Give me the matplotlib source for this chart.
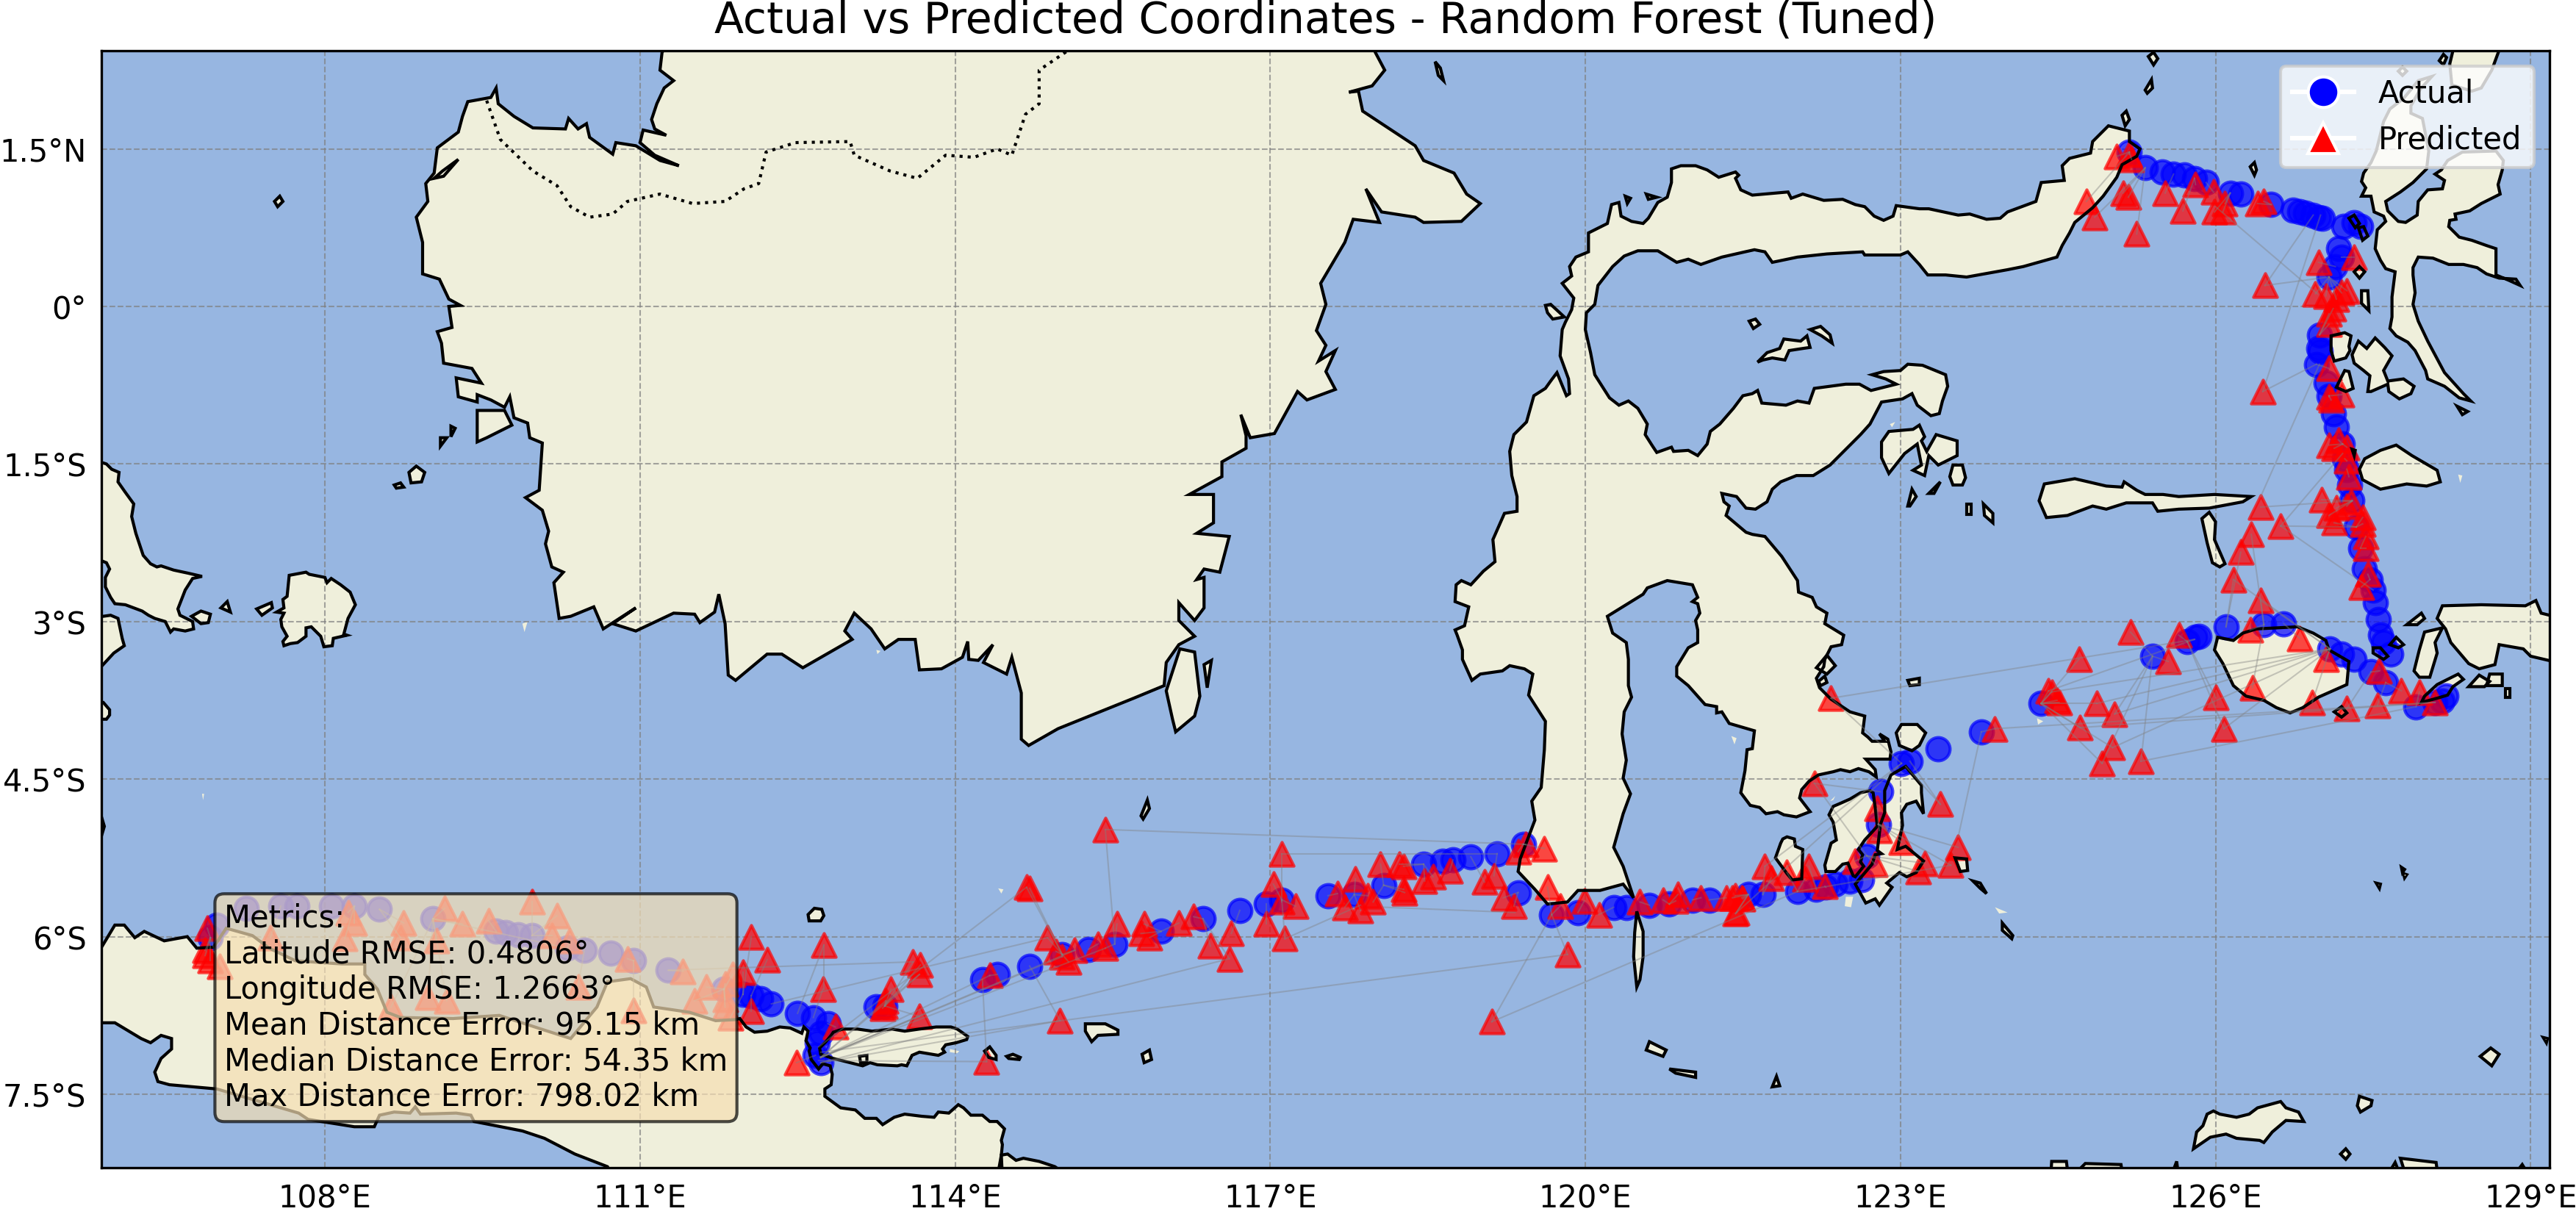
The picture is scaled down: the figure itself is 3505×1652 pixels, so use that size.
import numpy as np
import matplotlib
matplotlib.use("Agg")
import matplotlib.pyplot as plt
from matplotlib.lines import Line2D
from matplotlib.patches import Polygon

# ---------- coastlines, (lon, lat) ----------
borneo = [(111.32,2.57),(111.21,2.42),(111.19,2.25),(111.32,2.15),(111.23,2.08),(111.16,1.93),(111.11,1.78),(111.14,1.69),(111.25,1.63),(111.03,1.68),(111.0,1.56),(111.14,1.44),(111.37,1.34),(111.19,1.39),(110.96,1.53),(110.77,1.56),(110.74,1.45),(110.52,1.61),(110.49,1.74),(110.41,1.69),(110.32,1.79),(110.29,1.69),(109.98,1.70),(109.80,1.81),(109.65,1.93),(109.63,2.08),(109.58,1.99),(109.36,1.95),(109.31,1.81),(109.27,1.66),(109.07,1.51),(109.04,1.27),(108.96,1.17),(108.98,1.0),(108.87,0.85),(108.93,0.61),(108.93,0.31),(109.09,0.26),(109.18,0.07),(109.29,0.01),(109.18,0.0),(109.21,-0.2),(109.07,-0.24),(109.11,-0.35),(109.13,-0.54),(109.40,-0.59),(109.49,-0.73),(109.25,-0.68),(109.27,-0.86),(109.45,-0.91),(109.45,-0.84),(109.58,-0.89),(109.71,-0.96),(109.76,-0.86),(109.80,-1.06),(109.93,-1.11),(109.95,-1.25),(110.07,-1.30),(110.04,-1.75),(109.91,-1.82),(110.07,-1.94),(110.13,-2.14),(110.10,-2.26),(110.16,-2.48),(110.27,-2.53),(110.18,-2.63),(110.23,-2.97),(110.34,-2.95),(110.56,-2.86),(110.65,-3.07),(110.96,-2.87),(110.74,-3.02),(110.96,-3.09),(111.32,-2.92),(111.52,-2.93),(111.57,-3.01),(111.71,-2.91),(111.75,-2.74),(111.81,-3.02),(111.84,-3.51),(111.91,-3.56),(112.21,-3.31),(112.35,-3.31),(112.55,-3.44),(113.02,-3.17),(112.95,-3.09),(113.04,-2.92),(113.2,-3.07),(113.33,-3.26),(113.46,-3.17),(113.62,-3.17),(113.66,-3.46),(113.87,-3.45),(114.07,-3.34),(114.12,-3.19),(114.13,-3.36),(114.22,-3.37),(114.36,-3.22),(114.27,-3.39),(114.49,-3.5),(114.54,-3.34),(114.63,-3.68),(114.63,-4.12),(114.70,-4.18),(114.98,-4.02),(115.70,-3.73),(115.99,-3.61),(116.01,-3.39),(116.13,-3.22),(116.28,-3.14),(116.13,-2.99),(116.13,-2.82),(116.28,-2.99),(116.37,-2.87),(116.37,-2.58),(116.30,-2.60),(116.37,-2.50),(116.52,-2.53),(116.61,-2.19),(116.30,-2.16),(116.46,-2.06),(116.46,-1.79),(116.23,-1.79),(116.54,-1.62),(116.54,-1.48),(116.77,-1.35),(116.77,-1.23),(116.72,-1.03),(116.81,-1.25),(117.04,-1.21),(117.26,-0.81),(117.35,-0.89),(117.62,-0.79),(117.53,-0.62),(117.62,-0.42),(117.46,-0.52),(117.53,-0.37),(117.44,-0.23),(117.53,0.02),(117.48,0.22),(117.71,0.61),(117.79,0.83),(118.04,0.80),(117.91,1.12),(118.06,0.90),(118.38,0.85),(118.46,0.80),(118.82,0.81),(119.0,0.98),(118.87,1.07),(118.75,1.27),(118.46,1.39),(118.38,1.53),(117.88,1.86),(117.84,2.05),(117.75,2.04),(117.97,2.10),(118.09,2.25),(118.0,2.42),(117.97,2.57)]
java = [(105.88,-6.09),(106.0,-5.89),(106.09,-5.89),(106.19,-6.01),(106.28,-5.95),(106.47,-6.04),(106.69,-6.0),(106.78,-6.11),(106.94,-6.1),(107.06,-5.92),(107.31,-5.99),(107.47,-6.11),(107.72,-6.23),(108.16,-6.26),(108.38,-6.26),(108.38,-6.36),(108.5,-6.5),(108.59,-6.72),(108.72,-6.77),(109.22,-6.78),(109.66,-6.75),(110.09,-6.89),(110.34,-6.97),(110.59,-6.67),(110.69,-6.43),(110.91,-6.4),(111.06,-6.48),(111.13,-6.67),(111.47,-6.72),(111.72,-6.8),(111.91,-6.79),(111.95,-6.78),(112.01,-6.86),(112.09,-6.91),(112.21,-6.9),(112.33,-6.86),(112.43,-6.87),(112.54,-6.92),(112.56,-6.86),(112.6,-6.9),(112.58,-6.99),(112.62,-7.06),(112.61,-7.09),(112.63,-7.17),(112.7,-7.26),(112.74,-7.21),(112.81,-7.23),(112.83,-7.31),(112.82,-7.41),(112.76,-7.45),(112.76,-7.52),(112.91,-7.63),(113.05,-7.65),(113.14,-7.73),(113.25,-7.73),(113.31,-7.79),(113.42,-7.72),(113.52,-7.69),(113.68,-7.71),(113.8,-7.72),(113.84,-7.67),(113.94,-7.68),(114.03,-7.6),(114.08,-7.63),(114.15,-7.7),(114.26,-7.7),(114.33,-7.76),(114.4,-7.76),(114.47,-7.83),(114.44,-7.94),(114.45,-7.98),(114.44,-8.08),(114.4,-8.3),(110.75,-8.3),(110.69,-8.19),(110.38,-8.07),(110.09,-7.92),(109.88,-7.85),(109.42,-7.76),(109.39,-7.7),(109.25,-7.68),(108.91,-7.69),(108.86,-7.62),(108.81,-7.68),(108.66,-7.67),(108.52,-7.7),(108.47,-7.81),(108.28,-7.81),(107.84,-7.74),(107.75,-7.68),(106.97,-7.45),(106.52,-7.41),(106.41,-7.38),(106.38,-7.29),(106.44,-7.16),(106.54,-7.07),(106.54,-6.97),(106.44,-6.94),(106.34,-7.01),(106.25,-6.97),(106.0,-6.82),(105.88,-6.82),(105.6,-6.82),(105.6,-6.09)]
bali = [(114.45,-8.3),(114.44,-8.08),(114.5,-8.07),(114.58,-8.13),(114.65,-8.11),(114.8,-8.14),(114.95,-8.19),(115.1,-8.3)]
madura = [(112.84,-6.91),(112.93,-6.88),(113.07,-6.88),(113.21,-6.9),(113.4,-6.88),(113.52,-6.9),(113.66,-6.88),(113.82,-6.86),(113.96,-6.86),(114.02,-6.88),(114.12,-6.95),(114.11,-6.98),(114.01,-7.01),(113.91,-7.03),(113.88,-7.07),(113.9,-7.1),(113.84,-7.13),(113.66,-7.1),(113.59,-7.13),(113.54,-7.23),(113.49,-7.22),(113.45,-7.23),(113.26,-7.22),(113.19,-7.2),(113.12,-7.23),(113.0,-7.2),(112.84,-7.16),(112.72,-7.12),(112.71,-7.06),(112.77,-7.0),(112.82,-6.94)]
bangka = [(105.89,-1.49),(105.92,-1.5),(105.97,-1.55),(106.04,-1.58),(106.03,-1.67),(106.10,-1.77),(106.18,-1.88),(106.16,-2.0),(106.20,-2.16),(106.27,-2.37),(106.34,-2.45),(106.40,-2.48),(106.44,-2.47),(106.56,-2.51),(106.70,-2.54),(106.83,-2.57),(106.74,-2.59),(106.67,-2.70),(106.60,-2.88),(106.62,-2.94),(106.74,-3.0),(106.75,-3.07),(106.67,-3.09),(106.56,-3.07),(106.53,-3.10),(106.48,-3.0),(106.38,-2.97),(106.32,-2.94),(106.26,-2.90),(106.10,-2.84),(106.0,-2.83),(105.96,-2.77),(105.91,-2.67),(105.91,-2.58),(105.95,-2.5),(105.92,-2.44),(105.87,-2.42),(105.6,-2.42),(105.6,-1.49)]
sumatra_a = [(105.6,-2.95),(105.89,-2.95),(105.96,-2.94),(106.03,-2.97),(106.07,-3.16),(106.09,-3.23),(105.99,-3.30),(105.87,-3.43),(105.6,-3.43)]
sumatra_b = [(105.6,-3.77),(105.89,-3.77),(105.95,-3.84),(105.95,-3.89),(105.92,-3.93),(105.6,-3.93)]
belitung = [(107.66,-2.56),(107.82,-2.53),(107.85,-2.55),(108.0,-2.58),(108.02,-2.63),(108.06,-2.59),(108.15,-2.65),(108.24,-2.72),(108.29,-2.84),(108.22,-2.97),(108.18,-3.12),(108.21,-3.13),(108.08,-3.16),(108.07,-3.23),(107.99,-3.24),(107.96,-3.14),(107.87,-3.05),(107.82,-3.06),(107.82,-3.14),(107.74,-3.2),(107.67,-3.21),(107.61,-3.23),(107.6,-3.19),(107.64,-3.14),(107.59,-3.05),(107.58,-2.98),(107.61,-2.92),(107.54,-2.91),(107.61,-2.87),(107.6,-2.79),(107.64,-2.76)]
sulawesi = [(120.03,0.70),(120.21,0.79),(120.25,0.97),(120.32,0.99),(120.34,0.86),(120.44,0.81),(120.55,0.79),(120.6,0.84),(120.69,0.99),(120.78,1.04),(120.82,1.18),(120.82,1.31),(120.91,1.34),(121.05,1.34),(121.16,1.3),(121.27,1.23),(121.43,1.28),(121.46,1.25),(121.43,1.22),(121.48,1.11),(121.59,1.06),(121.93,1.09),(121.96,1.03),(122.07,1.07),(122.27,1.01),(122.45,1.02),(122.57,0.97),(122.66,0.95),(122.75,0.86),(122.84,0.82),(122.93,0.86),(122.96,0.96),(123.18,0.93),(123.27,0.93),(123.55,0.87),(123.66,0.88),(123.82,0.83),(123.95,0.84),(124.02,0.9),(124.29,1.0),(124.34,1.18),(124.56,1.2),(124.54,1.34),(124.61,1.41),(124.81,1.46),(124.83,1.57),(124.98,1.72),(125.18,1.67),(125.18,1.57),(125.28,1.5),(125.25,1.43),(125.11,1.35),(125.06,1.23),(124.93,1.05),(124.83,0.94),(124.66,0.8),(124.61,0.7),(124.54,0.58),(124.49,0.47),(124.17,0.38),(124.02,0.35),(123.63,0.28),(123.43,0.3),(123.26,0.3),(123.18,0.4),(123.07,0.52),(123.0,0.49),(122.66,0.49),(122.64,0.52),(122.3,0.5),(122.02,0.47),(121.78,0.42),(121.71,0.52),(121.61,0.54),(121.52,0.52),(121.3,0.47),(121.1,0.4),(120.98,0.45),(120.87,0.42),(120.69,0.53),(120.5,0.53),(120.37,0.48),(120.26,0.38),(120.12,0.2),(120.09,0.02),(120.01,-0.06),(120.0,-0.22),(120.05,-0.44),(120.09,-0.65),(120.23,-0.87),(120.32,-0.94),(120.41,-0.9),(120.5,-0.97),(120.59,-1.12),(120.57,-1.22),(120.64,-1.33),(120.68,-1.39),(120.82,-1.34),(120.84,-1.38),(120.98,-1.37),(121.07,-1.42),(121.16,-1.31),(121.19,-1.19),(121.28,-1.12),(121.41,-0.97),(121.5,-0.85),(121.59,-0.83),(121.64,-0.8),(121.68,-0.92),(121.91,-0.94),(122.02,-0.9),(122.13,-0.92),(122.18,-0.78),(122.48,-0.74),(122.61,-0.74),(122.72,-0.8),(122.96,-0.74),(122.86,-0.69),(122.73,-0.65),(122.84,-0.62),(123.0,-0.61),(123.07,-0.55),(123.21,-0.56),(123.43,-0.65),(123.45,-0.76),(123.4,-0.9),(123.37,-1.02),(123.29,-1.04),(123.16,-0.94),(123.11,-0.83),(123.02,-0.88),(122.82,-0.91),(122.71,-1.12),(122.62,-1.22),(122.51,-1.33),(122.33,-1.51),(122.17,-1.61),(122.01,-1.61),(121.86,-1.67),(121.78,-1.74),(121.73,-1.86),(121.62,-1.93),(121.53,-1.92),(121.44,-1.81),(121.3,-1.78),(121.32,-1.86),(121.37,-1.9),(121.34,-1.99),(121.53,-2.15),(121.59,-2.17),(121.71,-2.19),(121.87,-2.38),(122.02,-2.61),(122.03,-2.72),(122.16,-2.77),(122.2,-2.86),(122.3,-2.92),(122.28,-3.02),(122.46,-3.13),(122.44,-3.22),(122.34,-3.24),(122.28,-3.36),(122.27,-3.43),(122.2,-3.54),(122.23,-3.63),(122.34,-3.74),(122.52,-3.86),(122.66,-3.9),(122.64,-4.06),(122.69,-4.1),(122.73,-4.14),(122.85,-4.14),(122.8,-4.07),(122.88,-4.12),(122.91,-4.24),(122.9,-4.31),(122.73,-4.31),(122.67,-4.31),(122.76,-4.41),(122.77,-4.48),(122.7,-4.43),(122.6,-4.4),(122.52,-4.43),(122.43,-4.41),(122.36,-4.43),(122.22,-4.46),(122.13,-4.52),(122.06,-4.6),(122.04,-4.68),(122.14,-4.81),(122.01,-4.86),(121.89,-4.84),(121.83,-4.81),(121.72,-4.83),(121.66,-4.77),(121.57,-4.75),(121.48,-4.63),(121.52,-4.42),(121.54,-4.22),(121.59,-4.21),(121.61,-4.04),(121.37,-3.97),(121.3,-3.86),(121.25,-3.87),(121.25,-3.81),(121.14,-3.79),(120.98,-3.61),(120.87,-3.52),(120.87,-3.43),(120.98,-3.25),(121.07,-3.2),(121.07,-3.08),(121.05,-2.99),(121.09,-2.92),(121.07,-2.83),(121.02,-2.81),(121.07,-2.77),(121.02,-2.65),(120.78,-2.61),(120.59,-2.68),(120.55,-2.74),(120.21,-2.95),(120.26,-3.11),(120.39,-3.2),(120.41,-3.36),(120.41,-3.61),(120.44,-3.72),(120.37,-3.86),(120.35,-4.07),(120.39,-4.32),(120.36,-4.49),(120.43,-4.64),(120.36,-4.83),(120.27,-5.15),(120.36,-5.33),(120.46,-5.63),(120.36,-5.5),(120.14,-5.56),(119.93,-5.56),(119.83,-5.67),(119.64,-5.69),(119.52,-5.55),(119.36,-5.38),(119.38,-5.26),(119.52,-4.89),(119.49,-4.71),(119.58,-4.58),(119.61,-4.22),(119.62,-3.95),(119.46,-3.7),(119.5,-3.5),(119.42,-3.45),(119.28,-3.42),(119.21,-3.47),(119.0,-3.5),(118.92,-3.56),(118.83,-3.36),(118.83,-3.27),(118.78,-3.13),(118.76,-3.08),(118.85,-3.04),(118.89,-2.86),(118.76,-2.81),(118.77,-2.65),(118.82,-2.61),(118.91,-2.65),(119.03,-2.52),(119.14,-2.43),(119.12,-2.22),(119.23,-1.97),(119.35,-1.95),(119.35,-1.81),(119.3,-1.61),(119.28,-1.38),(119.32,-1.22),(119.44,-1.1),(119.51,-0.85),(119.62,-0.78),(119.67,-0.71),(119.73,-0.63),(119.82,-0.85),(119.85,-0.83),(119.84,-0.69),(119.76,-0.47),(119.78,-0.22),(119.81,-0.15),(119.87,-0.03),(119.89,0.08),(119.78,0.22),(119.87,0.29),(119.85,0.38),(119.91,0.47),(120.03,0.52)]
halmahera = [(128.06,2.19),(127.93,2.15),(127.79,1.98),(127.66,1.88),(127.6,1.76),(127.53,1.48),(127.48,1.37),(127.41,1.27),(127.39,1.19),(127.43,1.13),(127.39,1.05),(127.48,1.05),(127.51,0.9),(127.6,0.86),(127.62,0.81),(127.54,0.73),(127.52,0.55),(127.57,0.44),(127.62,0.36),(127.71,0.33),(127.68,0.09),(127.68,-0.1),(127.66,-0.21),(127.72,-0.28),(127.83,-0.34),(127.9,-0.42),(128.0,-0.61),(128.02,-0.69),(128.18,-0.76),(128.32,-0.87),(128.43,-0.9),(128.36,-0.83),(128.18,-0.63),(128.02,-0.33),(127.93,-0.14),(127.88,0.02),(127.9,0.13),(127.88,0.3),(127.88,0.37),(127.93,0.47),(128.07,0.46),(128.22,0.4),(128.36,0.4),(128.49,0.37),(128.58,0.31),(128.7,0.27),(128.86,0.26),(128.9,0.2),(128.79,0.25),(128.67,0.3),(128.67,0.55),(128.58,0.58),(128.44,0.63),(128.32,0.66),(128.22,0.76),(128.23,0.82),(128.29,0.83),(128.28,0.88),(128.42,0.91),(128.53,0.98),(128.71,1.07),(128.69,1.16),(128.73,1.3),(128.74,1.39),(128.67,1.48),(128.35,1.47),(128.21,1.39),(128.15,1.3),(128.09,1.26),(128.18,1.2),(128.16,1.12),(128.02,1.11),(127.93,1.0),(127.92,0.87),(127.81,0.8),(127.74,0.81),(127.64,0.91),(127.62,1.0),(127.76,1.09),(127.88,1.18),(128.01,1.31),(128.03,1.48),(127.97,1.79),(127.86,1.84),(127.86,1.91),(127.95,2.07)]
morotai = [(128.3,2.6),(128.23,2.31),(128.25,2.11),(128.44,2.05),(128.53,2.08),(128.63,2.25),(128.7,2.44),(128.75,2.6)]
bacan = [(127.3,-0.46),(127.36,-0.33),(127.44,-0.4),(127.52,-0.3),(127.61,-0.39),(127.68,-0.47),(127.6,-0.61),(127.64,-0.71),(127.79,-0.69),(127.89,-0.76),(127.86,-0.83),(127.75,-0.88),(127.65,-0.81),(127.64,-0.74),(127.48,-0.81),(127.45,-0.81),(127.47,-0.66),(127.41,-0.61),(127.32,-0.54)]
kasiruta = [(127.1,-0.28),(127.23,-0.25),(127.29,-0.28),(127.27,-0.38),(127.28,-0.42),(127.24,-0.49),(127.13,-0.52),(127.1,-0.42)]
mandioli = [(127.23,-0.61),(127.27,-0.62),(127.31,-0.78),(127.24,-0.81),(127.15,-0.77),(127.19,-0.69)]
peleng = [(122.82,-1.29),(122.89,-1.19),(123.12,-1.17),(123.18,-1.13),(123.23,-1.24),(123.2,-1.28),(123.25,-1.38),(123.34,-1.22),(123.54,-1.28),(123.54,-1.42),(123.36,-1.51),(123.27,-1.42),(123.23,-1.61),(123.12,-1.56),(123.2,-1.51),(123.16,-1.31),(123.04,-1.4),(122.89,-1.59),(122.82,-1.44)]
togian = [(121.64,-0.53),(121.73,-0.44),(121.85,-0.4),(121.89,-0.31),(122.05,-0.33),(122.11,-0.28),(122.14,-0.39),(122.07,-0.4),(121.94,-0.42),(121.9,-0.51),(121.78,-0.49),(121.69,-0.51)]
mangole = [(124.37,-1.69),(124.66,-1.64),(124.96,-1.71),(125.11,-1.72),(125.13,-1.67),(125.25,-1.75),(125.33,-1.79),(125.5,-1.79),(125.65,-1.81),(125.99,-1.79),(126.34,-1.81),(126.26,-1.86),(125.94,-1.92),(125.65,-1.93),(125.45,-1.95),(125.4,-1.87),(125.15,-1.87),(124.96,-1.93),(124.83,-1.9),(124.59,-1.99),(124.39,-2.01),(124.32,-1.85)]
sanana = [(125.87,-2.02),(125.94,-1.96),(126.0,-2.05),(125.99,-2.22),(126.09,-2.45),(126.04,-2.48),(125.97,-2.44),(125.92,-2.25)]
obi = [(127.42,-1.45),(127.57,-1.37),(127.72,-1.32),(127.87,-1.42),(128.11,-1.56),(128.14,-1.67),(128.01,-1.71),(127.82,-1.69),(127.57,-1.74),(127.4,-1.65),(127.37,-1.55)]
buru = [(125.99,-3.27),(126.02,-3.15),(126.17,-3.18),(126.26,-3.11),(126.39,-3.07),(126.78,-3.05),(126.93,-3.11),(127.05,-3.18),(127.08,-3.27),(127.27,-3.38),(127.25,-3.6),(126.98,-3.72),(126.83,-3.82),(126.71,-3.87),(126.58,-3.82),(126.46,-3.75),(126.29,-3.71),(126.17,-3.61),(126.07,-3.4)]
seram = [(128.16,-2.85),(128.53,-2.84),(128.95,-2.85),(129.05,-2.8),(129.1,-2.92),(129.3,-2.97),(129.3,-3.4),(129.0,-3.33),(128.93,-3.26),(128.7,-3.22),(128.66,-3.41),(128.51,-3.45),(128.41,-3.4),(128.24,-3.2),(128.19,-3.07),(128.11,-2.97)]
ambon = [(127.99,-3.71),(128.11,-3.6),(128.31,-3.5),(128.36,-3.55),(128.26,-3.62),(128.21,-3.7),(128.11,-3.73),(127.96,-3.77)]
kelang = [(127.99,-3.1),(128.16,-3.06),(128.09,-3.2),(128.11,-3.3),(128.04,-3.53),(127.94,-3.53),(127.89,-3.47),(127.94,-3.27)]
kabaena = [(121.81,-5.25),(121.86,-5.11),(121.88,-5.07),(121.92,-5.05),(121.99,-5.07),(122.0,-5.14),(122.07,-5.17),(122.06,-5.45),(121.97,-5.46),(121.92,-5.4)]
muna = [(122.32,-4.84),(122.36,-4.76),(122.43,-4.73),(122.52,-4.69),(122.62,-4.63),(122.71,-4.61),(122.74,-4.63),(122.76,-4.77),(122.78,-4.95),(122.66,-5.08),(122.6,-5.17),(122.64,-5.22),(122.62,-5.29),(122.65,-5.33),(122.57,-5.43),(122.55,-5.42),(122.5,-5.3),(122.45,-5.31),(122.38,-5.38),(122.29,-5.38),(122.28,-5.32),(122.34,-5.11),(122.39,-5.08),(122.36,-4.91)]
buton = [(122.85,-4.61),(122.91,-4.46),(123.05,-4.38),(123.2,-4.56),(123.2,-4.63),(123.22,-4.83),(123.15,-4.71),(123.06,-4.74),(123.01,-4.82),(123.02,-4.94),(122.97,-5.17),(123.05,-5.14),(123.22,-5.28),(123.15,-5.39),(123.06,-5.43),(122.99,-5.39),(122.87,-5.49),(122.92,-5.53),(122.8,-5.7),(122.76,-5.64),(122.67,-5.68),(122.57,-5.5),(122.73,-5.31),(122.76,-5.22),(122.82,-5.21),(122.78,-5.18),(122.81,-4.93),(122.85,-4.82)]
wowoni = [(122.96,-4.06),(123.01,-3.98),(123.16,-3.98),(123.24,-4.06),(123.18,-4.18),(123.11,-4.23),(122.99,-4.18)]
selayar = [(120.49,-5.76),(120.55,-5.95),(120.55,-6.19),(120.52,-6.41),(120.49,-6.48),(120.46,-6.19),(120.47,-5.96)]
wetar = [(125.79,-8.02),(125.82,-7.86),(125.88,-7.8),(125.92,-7.69),(125.98,-7.66),(126.04,-7.69),(126.2,-7.72),(126.32,-7.69),(126.4,-7.63),(126.62,-7.57),(126.67,-7.63),(126.79,-7.67),(126.84,-7.76),(126.67,-7.75),(126.54,-7.86),(126.46,-7.96),(126.42,-7.94),(126.2,-7.92),(126.1,-7.88),(125.95,-7.91)]
maya = [(109.45,-0.99),(109.71,-0.99),(109.78,-1.13),(109.54,-1.25),(109.45,-1.29)]
laut = [(116.14,-3.26),(116.28,-3.29),(116.33,-3.71),(116.28,-3.9),(116.1,-4.05),(116.07,-3.93),(116.01,-3.66)]
sebuku = [(116.37,-3.41),(116.44,-3.37),(116.4,-3.63)]
kangean = [(115.24,-6.83),(115.43,-6.83),(115.55,-6.89),(115.55,-6.93),(115.36,-6.94),(115.3,-7.0),(115.24,-6.9)]
bawean = [(112.6,-5.79),(112.66,-5.73),(112.73,-5.74),(112.75,-5.8),(112.72,-5.85),(112.61,-5.85)]
small_isles = [
 [(109.04,1.22),(109.12,1.29),(109.27,1.4),(109.13,1.24)],
 [(107.52,1.0),(107.57,1.05),(107.6,1.0),(107.55,0.95)],
 [(118.57,2.33),(118.62,2.27),(118.65,2.15),(118.6,2.2)],
 [(108.8,-1.58),(108.87,-1.52),(108.95,-1.58),(108.92,-1.67),(108.82,-1.68)],
 [(108.66,-1.7),(108.72,-1.68),(108.75,-1.72),(108.68,-1.73)],
 [(109.2,-1.14),(109.24,-1.16),(109.2,-1.24)],[(109.1,-1.25),(109.16,-1.25),(109.1,-1.33)],
 [(106.82,-2.9),(106.91,-2.93),(106.89,-3.01),(106.82,-3.02),(106.73,-2.95)],
 [(107.01,-2.87),(107.07,-2.81),(107.10,-2.91)],
 [(107.35,-2.88),(107.49,-2.82),(107.5,-2.87),(107.4,-2.94)],
 [(114.28,-7.09),(114.33,-7.05),(114.39,-7.13),(114.39,-7.17),(114.32,-7.15)],
 [(114.49,-7.14),(114.55,-7.12),(114.62,-7.15),(114.61,-7.17),(114.51,-7.16)],
 [(113.09,-7.14),(113.16,-7.13),(113.16,-7.2),(113.1,-7.2)],
 [(115.77,-4.85),(115.83,-4.7),(115.85,-4.78),(115.79,-4.88)],
 [(115.78,-7.12),(115.85,-7.08),(115.87,-7.17),(115.8,-7.2)],
 [(120.58,-7.08),(120.61,-7.0),(120.77,-7.08),(120.74,-7.14)],
 [(120.8,-7.26),(121.05,-7.29),(121.05,-7.34),(120.86,-7.3)],
 [(121.78,-7.43),(121.82,-7.33),(121.85,-7.42)],
 [(119.62,0.01),(119.67,0.02),(119.8,-0.1),(119.69,-0.12),(119.64,-0.06)],
 [(121.56,-0.14),(121.62,-0.12),(121.66,-0.17),(121.6,-0.21)],
 [(122.14,-0.22),(122.24,-0.19),(122.33,-0.27),(122.35,-0.35),(122.25,-0.28)],
 [(120.38,1.05),(120.4,0.98),(120.43,1.03)],[(120.58,1.07),(120.68,1.04),(120.6,1.02)],
 [(123.5,-1.51),(123.59,-1.51),(123.62,-1.63),(123.59,-1.7),(123.5,-1.7),(123.47,-1.62)],
 [(123.07,-1.9),(123.11,-1.74),(123.15,-1.81),(123.09,-1.9)],
 [(123.27,-1.78),(123.38,-1.67),(123.32,-1.78)],
 [(123.79,-1.88),(123.88,-1.97),(123.88,-2.06),(123.8,-1.99)],
 [(123.63,-1.88),(123.67,-1.88),(123.67,-1.98),(123.63,-1.98)],
 [(123.07,-3.56),(123.18,-3.54),(123.18,-3.6),(123.09,-3.61)],
 [(122.2,-3.44),(122.3,-3.32),(122.38,-3.42),(122.3,-3.5)],
 [(122.22,-3.57),(122.28,-3.52),(122.3,-3.58),(122.24,-3.61)],
 [(123.52,-5.25),(123.63,-5.26),(123.64,-5.37),(123.57,-5.38)],
 [(123.69,-5.47),(123.76,-5.49),(123.82,-5.59),(123.76,-5.54)],
 [(123.97,-5.87),(124.07,-5.99),(124.06,-6.02),(123.97,-5.94)],
 [(127.37,-7.52),(127.49,-7.56),(127.48,-7.61),(127.38,-7.67),(127.35,-7.61)],
 [(127.19,-8.07),(127.24,-8.02),(127.28,-8.07),(127.24,-8.12)],
 [(128.62,-7.06),(128.7,-7.12),(128.63,-7.23),(128.52,-7.14)],
 [(129.12,-6.96),(129.16,-6.97),(129.15,-7.01)],
 [(127.53,-5.49),(127.57,-5.5),(127.56,-5.54)],[(127.77,-5.34),(127.8,-5.36),(127.78,-5.39)],[(127.79,-5.4),(127.82,-5.41),(127.8,-5.44)],
 [(124.43,-8.3),(124.44,-8.14),(124.58,-8.14),(124.6,-8.3)],
 [(124.62,-8.3),(124.76,-8.16),(125.1,-8.17),(125.12,-8.3)],
 [(125.57,-8.3),(125.63,-8.14),(125.65,-8.3)],
 [(127.62,-8.3),(127.71,-8.15),(127.77,-8.3)],
 [(127.76,-8.11),(128.1,-8.15),(128.12,-8.3),(127.82,-8.3)],
 [(128.82,-8.3),(128.92,-8.17),(129.0,-8.3)],
 [(127.82,-3.03),(127.96,-2.92),(127.99,-2.97),(127.92,-3.03)],
 [(127.5,-3.25),(127.57,-3.25),(127.64,-3.33),(127.6,-3.36),(127.5,-3.3)],
 [(127.66,-3.22),(127.72,-3.15),(127.79,-3.22),(127.74,-3.25)],
 [(128.41,-3.62),(128.51,-3.51),(128.61,-3.57),(128.56,-3.62)],
 [(128.58,-3.61),(128.61,-3.5),(128.73,-3.5),(128.73,-3.61)],
 [(128.76,-3.64),(128.8,-3.64),(128.8,-3.72),(128.76,-3.72)],
 [(127.13,-3.86),(127.2,-3.81),(127.25,-3.87),(127.2,-3.91)],
 [(125.36,2.38),(125.41,2.42),(125.45,2.36),(125.41,2.3)],
 [(125.33,2.06),(125.39,2.16),(125.4,2.08),(125.35,2.03)],
 [(125.11,1.82),(125.15,1.86),(125.18,1.78),(125.14,1.72)],
 [(126.33,1.33),(126.37,1.37),(126.39,1.3),(126.37,1.25)],
 [(127.27,0.84),(127.32,0.87),(127.37,0.79),(127.33,0.75)],
 [(127.36,0.75),(127.41,0.76),(127.45,0.67),(127.4,0.63)],
 [(127.32,0.33),(127.37,0.38),(127.42,0.33),(127.37,0.27)],
 [(127.39,0.15),(127.45,0.15),(127.46,-0.04),(127.39,0.03)],
 [(128.13,2.34),(128.17,2.4),(128.2,2.37),(128.17,2.3)],
 [(127.74,2.24),(127.78,2.28),(127.82,2.24),(127.78,2.2)],
 [(128.3,-0.95),(128.4,-1.0),(128.35,-1.03)],
 [(127.3,-1.36),(127.33,-1.37),(127.32,-1.42)],
 [(105.87,-4.85),(105.9,-4.95),(105.87,-5.05)],
]
land_specks = [
 [(122.48,-5.62),(122.55,-5.62),(122.53,-5.72),(122.47,-5.71)],[(122.33,-4.71),(122.38,-4.66),(122.36,-4.7)],
 [(113.95,-7.07),(114.04,-7.09),(114.02,-7.11),(113.95,-7.1)],[(114.41,-5.54),(114.46,-5.55),(114.44,-5.59)],
 [(121.39,-4.09),(121.44,-4.11),(121.42,-4.17)],[(128.31,-1.6),(128.35,-1.61),(128.33,-1.68)],
 [(123.9,-5.72),(124.02,-5.77),(123.94,-5.78)],[(112.45,-7.0),(112.49,-7.01),(112.47,-7.04)],
 [(123.27,-0.95),(123.32,-0.98),(123.3,-1.05)],[(122.9,-1.12),(122.95,-1.1),(122.92,-1.15)],
 [(106.83,-4.64),(106.85,-4.64),(106.84,-4.7)],[(109.88,-3.02),(109.93,-3.0),(109.9,-3.1)],
 [(113.25,-3.27),(113.29,-3.28),(113.26,-3.31)],[(124.3,-3.92),(124.36,-3.95),(124.31,-3.98)],
]
border_lon = [109.54,109.67,109.98,110.21,110.34,110.52,110.74,110.88,111.19,111.5,111.81,111.99,112.13,112.2,112.48,113.0,113.04,113.38,113.64,113.91,114.18,114.4,114.54,114.67,114.8,114.8,115.05,115.2]
border_lat = [1.96,1.59,1.29,1.15,0.95,0.85,0.88,1.0,1.07,0.98,1.0,1.12,1.17,1.47,1.56,1.57,1.44,1.29,1.22,1.44,1.42,1.5,1.44,1.83,1.93,2.25,2.42,2.57]

# ---------- ship positions ----------
actual = [(106.91,-6.01),(106.97,-5.89),(107.25,-5.73),(107.58,-5.71),(107.73,-5.71),(108.06,-5.71),(108.28,-5.71),(108.52,-5.74),(109.03,-5.83),(109.63,-5.95),(109.72,-5.96),(109.84,-5.98),(109.97,-5.99),(110.31,-6.11),(110.47,-6.13),(110.72,-6.16),(110.94,-6.23),(111.27,-6.32),(111.8,-6.5),(111.98,-6.55),(112.06,-6.56),(112.15,-6.59),(112.25,-6.64),(112.5,-6.73),(112.65,-6.77),(112.79,-6.83),(112.72,-6.92),(112.69,-7.01),(112.67,-7.13),(112.72,-7.2),(113.25,-6.67),(113.33,-6.66),(114.26,-6.41),(114.4,-6.36),(114.71,-6.28),(115.02,-6.17),(115.27,-6.12),(115.52,-6.07),(115.96,-5.95),(116.36,-5.83),(116.71,-5.75),(116.96,-5.69),(117.11,-5.65),(117.55,-5.61),(117.8,-5.6),(118.08,-5.51),(118.46,-5.31),(118.64,-5.28),(118.74,-5.27),(118.91,-5.24),(119.16,-5.21),(119.41,-5.12),(119.36,-5.58),(119.68,-5.79),(119.93,-5.77),(120.27,-5.72),(120.39,-5.72),(120.61,-5.7),(120.8,-5.69),(121.02,-5.65),(121.18,-5.65),(121.55,-5.6),(121.69,-5.6),(122.02,-5.57),(122.2,-5.55),(122.29,-5.53),(122.38,-5.5),(122.52,-5.47),(122.63,-5.46),(122.68,-5.23),(122.79,-4.93),(122.81,-4.62),(123.01,-4.35),(123.09,-4.33),(123.36,-4.21),(123.77,-4.05),(124.34,-3.78),(125.4,-3.33),(125.73,-3.19),(125.81,-3.15),(125.84,-3.14),(126.1,-3.05),(126.46,-3.03),(126.65,-3.02),(127.09,-3.26),(127.2,-3.31),(127.32,-3.36),(127.48,-3.48),(127.62,-3.58),(127.91,-3.81),(128.09,-3.77),(128.19,-3.71),(128.16,-3.76),(127.67,-3.31),(127.6,-3.2),(127.57,-3.13),(127.55,-2.98),(127.52,-2.82),(127.5,-2.7),(127.47,-2.6),(127.42,-2.5),(127.38,-2.3),(127.34,-2.1),(127.3,-1.85),(127.28,-1.7),(127.25,-1.55),(127.23,-1.45),(127.21,-1.31),(127.15,-1.15),(127.12,-1.02),(127.08,-0.85),(127.05,-0.73),(126.96,-0.55),(127.0,-0.43),(126.98,-0.4),(126.99,-0.27),(127.08,0.28),(127.14,0.38),(127.2,0.47),(127.17,0.55),(127.22,0.76),(127.38,0.76),(127.32,0.8),(127.02,0.84),(126.98,0.85),(126.93,0.87),(126.86,0.89),(126.8,0.9),(126.74,0.92),(126.53,0.97),(126.24,1.07),(126.14,1.08),(125.91,1.18),(125.8,1.22),(125.7,1.25),(125.6,1.26),(125.49,1.28),(125.33,1.32),(125.18,1.47)]
act_lon = [p[0] for p in actual]
act_lat = [p[1] for p in actual]

predicted = [(106.88,-5.92),(106.86,-6.13),(106.86,-6.18),(107.0,-6.28),(106.91,-6.23),(108.22,-5.77),(108.28,-5.87),(108.75,-5.87),(109.14,-5.73),(109.31,-5.88),(109.56,-5.85),(109.97,-5.67),(110.21,-5.8),(110.16,-5.99),(110.33,-6.04),(110.88,-6.21),(111.41,-6.33),(111.63,-6.48),(111.52,-6.61),(111.88,-6.36),(111.81,-6.45),(111.81,-6.6),(111.81,-6.67),(111.86,-6.77),(108.19,-6.02),(108.72,-6.01),(109.06,-6.04),(107.48,-6.01),(110.41,-6.48),(110.94,-6.7),(108.98,-6.58),(109.16,-6.61),(108.63,-6.67),
 (112.06,-6.0),(112.21,-6.22),(112.75,-6.08),(112.74,-6.5),(111.98,-6.34),(112.06,-6.71),(112.86,-6.86),(112.49,-7.2),(113.6,-6.24),(113.67,-6.27),(113.66,-6.36),(113.39,-6.5),(113.33,-6.66),(113.31,-6.68),(113.34,-6.61),(113.66,-6.76),(114.3,-7.19),(114.33,-6.37),(114.68,-5.53),(114.71,-5.54),(114.88,-6.01),
 (115.43,-4.98),(117.11,-5.21),(115.0,-6.8),(116.61,-6.21),(116.43,-6.09),(116.63,-5.97),(116.96,-5.88),(117.14,-6.02),(117.03,-5.5),(117.24,-5.71),(117.11,-5.67),(117.81,-5.45),(117.64,-5.59),(117.71,-5.72),(117.86,-5.75),(117.98,-5.67),(117.93,-5.61),(118.05,-5.31),(118.23,-5.31),(118.27,-5.33),(118.27,-5.55),(118.28,-5.58),(118.47,-5.47),(118.55,-5.43),(118.71,-5.37),(119.04,-5.48),(119.13,-5.42),(119.36,-5.19),(119.43,-5.12),(119.61,-5.16),(119.22,-5.63),(119.32,-5.71),(119.64,-5.53),(119.76,-5.71),(119.83,-6.17),(119.11,-6.81),(119.99,-5.66),(120.13,-5.79),(120.52,-5.67),(120.74,-5.65),(120.88,-5.6),(120.86,-5.66),(121.1,-5.63),(121.34,-5.63),(121.43,-5.61),(121.49,-5.63),(121.44,-5.77),(114.96,-6.14),(115.08,-6.24),(115.02,-6.19),(115.14,-6.13),(115.43,-6.11),(115.36,-6.07),(115.54,-5.88),(115.8,-5.88),(115.85,-6.01),(115.77,-5.97),(116.13,-5.87),(116.27,-5.81),
 (122.18,-4.54),(122.78,-4.78),(122.8,-4.99),(122.57,-5.28),(122.76,-5.31),(123.01,-5.1),(123.38,-4.74),(123.55,-5.15),(123.23,-5.3),(123.48,-5.32),(123.17,-5.38),(121.71,-5.33),(121.77,-5.44),(121.92,-5.39),(122.13,-5.33),(122.09,-5.45),(122.28,-5.52),(121.5,-5.64),(121.43,-5.78),(121.4,-5.63),
 (123.9,-4.02),(122.34,-3.73),(124.7,-3.36),(125.19,-3.1),(125.65,-3.13),(125.55,-3.38),(126.33,-3.08),(126.8,-3.16),(127.05,-3.36),(127.56,-3.47),(126.35,-3.63),(126.0,-3.72),(126.92,-3.77),(127.25,-3.83),(127.54,-3.8),(127.77,-3.66),(127.94,-3.67),(128.09,-3.77),(124.41,-3.66),(124.44,-3.67),(124.49,-3.75),(124.51,-3.77),(124.87,-3.78),(125.04,-3.88),(124.71,-4.01),(125.02,-4.2),(124.92,-4.35),(125.29,-4.33),(126.08,-4.02),(126.17,-2.6),(126.43,-2.8),(126.24,-2.34),(126.34,-2.17),(126.43,-1.91),(126.62,-2.09),(127.01,-1.84),(127.08,-1.99),(127.13,-2.06),(127.15,-1.92),(127.25,-1.9),(127.29,-1.86),(127.4,-2.01),(127.4,-2.07),(127.43,-2.19),(127.43,-2.3),(127.45,-2.55),(127.39,-2.67),(127.27,-1.62),(127.25,-1.47),(127.13,-1.35),
 (125.06,1.43),(125.18,1.45),(125.2,1.4),(124.77,1.0),(124.85,0.85),(125.12,1.08),(125.17,1.04),(125.25,0.69),(125.52,1.08),(125.69,0.91),(125.81,1.16),(125.98,1.09),(125.99,0.9),(126.07,0.9),(126.09,0.98),(126.4,0.98),(126.46,1.0),(126.47,0.2),(126.45,-0.81),(126.98,0.42),(127.32,0.47),(126.95,0.12),(127.05,0.1),(127.2,0.13),(127.25,0.15),(127.15,0.07),(127.12,-0.02),(127.08,-0.07),(127.08,-0.17),(127.08,-0.59),(127.08,-0.86),(127.2,-0.84),(127.1,-0.89),(127.17,-1.27),(127.08,-1.32),(127.25,-1.34)]
pred_lon = [p[0] for p in predicted]
pred_lat = [p[1] for p in predicted]

# large errors: predicted -> actual
far_pred_lon = [115.43,117.11,119.83,119.11,116.61,115.0,114.3,114.68,113.6,113.66,113.34,113.66,114.33,115.02,115.14,115.43,126.47,126.45,126.0,126.43,126.62,126.62,126.17,126.43,122.34,124.41,125.02,124.92,125.29,126.08,124.87,125.04,124.44,124.71,123.9,123.55,122.18,121.43,121.71,123.48,123.38,117.14,118.08,110.31,112.75,114.88]
far_pred_lat = [-4.98,-5.21,-6.17,-6.81,-6.21,-6.8,-7.19,-5.53,-6.24,-6.76,-6.61,-6.36,-6.37,-6.19,-6.13,-6.11,0.2,-0.81,0.95,-1.81,-2.09,-2.09,-2.6,-2.8,-3.73,-3.66,-4.2,-4.35,-4.33,-4.02,-3.78,-3.88,-3.67,-4.01,-4.02,-5.05,-4.54,-5.78,-5.33,-5.32,-4.74,-6.02,-5.72,-6.11,-6.08,-6.01]
far_act_lon = [119.41,119.16,112.72,122.02,112.72,112.72,112.7,112.7,111.27,112.72,112.72,112.72,112.72,112.72,112.72,112.72,126.93,127.0,126.97,126.99,127.21,127.5,127.09,127.09,125.8,125.8,127.09,125.4,127.91,127.09,127.09,127.09,127.09,128.09,128.09,123.77,122.68,123.01,123.01,122.02,123.05,117.86,119.33,109.03,112.75,112.25]
far_act_lat = [-5.12,-5.21,-7.1,-5.57,-7.2,-7.2,-7.18,-7.05,-6.32,-7.15,-7.15,-7.15,-7.15,-7.15,-7.15,-7.15,0.87,0.87,0.12,-0.55,-1.4,-2.7,-3.26,-3.26,-3.17,-3.17,-3.26,-3.33,-3.81,-3.26,-3.26,-3.26,-3.26,-3.77,-3.77,-4.05,-5.23,-4.35,-4.35,-5.57,-4.38,-5.7,-5.77,-5.83,-6.5,-6.64]

metrics = ["Metrics:", "Latitude RMSE: 0.4806°", "Longitude RMSE: 1.2663°",
           "Mean Distance Error: 95.15 km", "Median Distance Error: 54.35 km",
           "Max Distance Error: 798.02 km"]
xticks = [108,111,114,117,120,123,126,129]
yticks = [-7.5,-6,-4.5,-3,-1.5,0,1.5]

def lat_label(v):
    if v == 0:
        return "0°"
    s = f"{abs(v):g}°"
    return s + ("N" if v > 0 else "S")

OCEAN = (0.59375, 0.71484375, 0.8828125)
LAND = (0.9375, 0.9375, 0.859375)
W, H = 3505, 1652
fig = plt.figure(figsize=(W/300, H/300), dpi=300)
ax = fig.add_axes([138.4/W, 1-1589/H, 3330.6/W, 1520/H])
ax.set_facecolor(OCEAN)
ax.set_xlim(105.875, 129.18)
ax.set_ylim(-8.2, 2.435)

polys = [borneo, java, bali, madura, bangka, sumatra_a, sumatra_b, belitung, sulawesi, halmahera, morotai,
         bacan, kasiruta, mandioli, peleng, togian, mangole, sanana, obi, buru, seram, ambon, kelang,
         kabaena, muna, buton, wowoni, selayar, wetar, maya, laut, sebuku, kangean, bawean] + small_isles
for p in polys:
    ax.add_patch(Polygon(p, closed=True, facecolor=LAND, edgecolor='none', zorder=1))
for p in land_specks:
    ax.add_patch(Polygon(p, closed=True, facecolor=LAND, edgecolor='none', zorder=1))

ax.set_xticks(xticks)
ax.set_xticklabels([f"{v}°E" for v in xticks], fontsize=10)
ax.set_yticks(yticks)
ax.set_yticklabels([lat_label(v) for v in yticks], fontsize=10)
ax.tick_params(length=0, pad=5)
ax.grid(True, color='gray', alpha=0.7, lw=0.5, ls='--', zorder=2)
ax.set_axisbelow(False)
for ln in ax.get_xgridlines() + ax.get_ygridlines():
    ln.set_zorder(2)

ax.scatter(act_lon, act_lat, s=58, c='blue', marker='o', alpha=0.7, linewidths=1, zorder=5)
ax.scatter(pred_lon, pred_lat, s=60, c='red', marker='^', alpha=0.7, linewidths=1, zorder=6)

for p in polys:
    ax.add_patch(Polygon(p, closed=True, facecolor='none', edgecolor='black', lw=1.0, zorder=7))
ax.plot(border_lon, border_lat, color='black', ls=':', lw=1.0, zorder=7)

alon, alat = np.array(act_lon), np.array(act_lat)
for x, y in zip(pred_lon, pred_lat):
    i = np.argmin((alon-x)**2 + (alat-y)**2)
    ax.plot([x, alon[i]], [y, alat[i]], color='gray', alpha=0.4, lw=0.5, zorder=8)
for x0, y0, x1, y1 in zip(far_pred_lon, far_pred_lat, far_act_lon, far_act_lat):
    ax.plot([x0, x1], [y0, y1], color='gray', alpha=0.4, lw=0.5, zorder=8)

for s in ax.spines.values():
    s.set_linewidth(0.8)
    s.set_zorder(9)

ax.set_title("Actual vs Predicted Coordinates - Random Forest (Tuned)", fontsize=14)

handles = [Line2D([0],[0], marker='o', color='w', markerfacecolor='blue', markersize=10, label='Actual'),
           Line2D([0],[0], marker='^', color='w', markerfacecolor='red', markersize=10, label='Predicted')]
leg = ax.legend(handles=handles, loc='upper right', fontsize=10)
leg.set_zorder(20)

ax.text(0.05, 0.0495, "\n".join(metrics), transform=ax.transAxes, fontsize=10, va='bottom', ha='left',
        bbox=dict(boxstyle='round', facecolor='wheat', alpha=0.7), zorder=20)

fig.savefig("out.png", dpi=300)
